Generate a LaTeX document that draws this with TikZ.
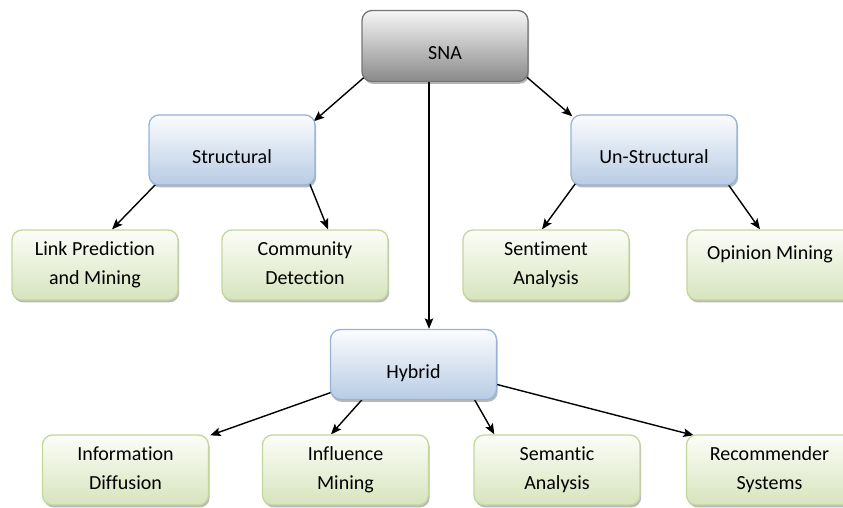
\documentclass[tikz,border=0pt]{standalone}
\usepackage{fontspec}
\setmainfont{Carlito}[Ligatures={NoCommon}]
\usetikzlibrary{arrows.meta,shadows,calc,backgrounds}

\definecolor{rootTop}{RGB}{246,246,246}
\definecolor{rootBot}{RGB}{138,138,138}
\definecolor{rootLine}{RGB}{118,118,118}
\definecolor{catTop}{RGB}{251,252,254}
\definecolor{catBot}{RGB}{184,204,228}
\definecolor{catLine}{RGB}{149,179,215}
\definecolor{leafTop}{RGB}{252,253,248}
\definecolor{leafBot}{RGB}{215,228,189}
\definecolor{leafLine}{RGB}{195,214,155}

\begin{document}
\begin{tikzpicture}[x=1pt,y=-1pt,
  box/.style={rounded corners=10pt, minimum width=166pt, minimum height=70pt,
    inner sep=0pt, line width=1.3pt,
    drop shadow={shadow xshift=1.2pt, shadow yshift=-2.4pt, opacity=0.28, fill=black}},
  rootbox/.style={box, draw=rootLine, top color=rootTop, bottom color=rootBot},
  catbox/.style={box, draw=catLine, top color=catTop, bottom color=catBot},
  leafbox/.style={box, draw=leafLine, top color=leafTop, bottom color=leafBot},
  txt/.style={align=center, inner sep=0pt, text=black,
    font=\fontsize{20}{29}\selectfont,
    execute at begin node=\strut, execute at end node=\strut},
  arr/.style={line width=1.4pt, draw=black,
    -{Stealth[length=10.5pt,width=8.5pt,inset=2pt]}}]

\useasboundingbox (0,0) rectangle (843,508);
\clip (0,0) rectangle (843,508);

% boxes
\node[rootbox] (sna) at (445,46) [minimum height=71pt] {};
\node[catbox] (structural) at (232,150) {};
\node[catbox] (unstructural) at (654,150) {};
\node[leafbox] (link) at (95,265) {};
\node[leafbox] (community) at (305,265) {};
\node[leafbox] (sentiment) at (546,265) {};
\node[leafbox] (opinion) at (770,265) {};
\node[catbox] (hybrid) at (413.5,364.5) {};
\node[leafbox] (info) at (125.5,470) {};
\node[leafbox] (influence) at (345.5,470) {};
\node[leafbox] (semantic) at (557,470) {};
\node[leafbox] (recommender) at (769.5,470) {};

% labels
\node[txt] (sna-t) at ([yshift=-7.7pt]sna.center) {SNA};
\node[txt] (structural-t) at ([yshift=-7.7pt]structural.center) {Structural};
\node[txt] (unstructural-t) at ([yshift=-7.7pt]unstructural.center) {Un-Structural};
\node[txt] (hybrid-t) at ([yshift=-7.7pt]hybrid.center) {Hybrid};
\node[txt] (link-t) at ([yshift=-2.7pt]link.center) {Link Prediction\\and Mining};
\node[txt] (community-t) at ([yshift=-2.7pt]community.center) {Community\\Detection};
\node[txt] (sentiment-t) at ([yshift=-2.7pt]sentiment.center) {Sentiment\\Analysis};
\node[txt] (opinion-t) at ([yshift=11.8pt]opinion.center) {Opinion Mining};
\node[txt] (info-t) at ([yshift=-2.7pt]info.center) {Information\\Diffusion};
\node[txt] (influence-t) at ([yshift=-2.7pt]influence.center) {Influence\\Mining};
\node[txt] (semantic-t) at ([yshift=-2.7pt]semantic.center) {Semantic\\Analysis};
\node[txt] (recommender-t) at ([yshift=-2.7pt]recommender.center) {Recommender\\Systems};

% connectors
\begin{scope}[on background layer]
\draw[arr] ($(sna.south west)+(3,-5)$) -- ($(structural.north east)+(-2,7)$);
\draw[arr] ($(sna.south east)+(-3,-6)$) -- ($(unstructural.north west)+(2,2)$);
\draw[arr] ($(sna.south)+(-16,-2)$) coordinate (snaDown) -- (snaDown |- hybrid.north);
\draw[arr] ($(structural.south west)+(8,-2)$) -- ($(link.north)+(17,0)$);
\draw[arr] ($(structural.south east)+(-6,-2)$) -- ($(community.north)+(23,0)$);
\draw[arr] ($(unstructural.south west)+(5,-2)$) -- ($(sentiment.north)+(-4,0)$);
\draw[arr] ($(unstructural.south east)+(-10,-2)$) -- ($(opinion.north)+(-10,0)$);
\draw[arr] ($(hybrid.south west)+(2,-8)$) -- ($(info.north east)+(1,1)$);
\draw[arr] ($(hybrid.south west)+(33.5,-2)$) -- ($(influence.north)+(-14.5,0)$);
\draw[arr] ($(hybrid.south east)+(-23.5,-2)$) -- ($(semantic.north west)+(21,0)$);
\draw[arr] ($(hybrid.east)+(-2,19.5)$) -- ($(recommender.north west)+(8,1)$);
\end{scope}
\end{tikzpicture}
\end{document}
